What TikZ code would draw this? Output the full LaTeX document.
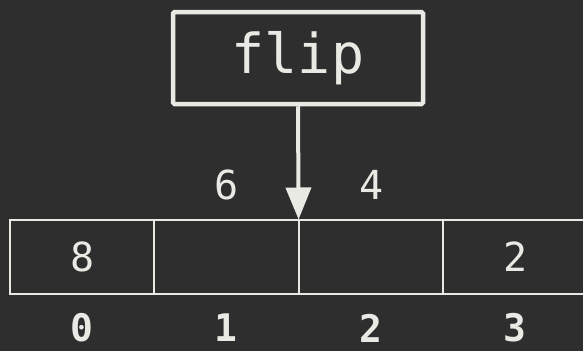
\documentclass[tikz,border=0pt]{standalone}
\usepackage{fontspec}
\setmonofont{DejaVu Sans Mono}
\usetikzlibrary{arrows.meta}
\definecolor{bg}{HTML}{2E2E2E}
\definecolor{fg}{HTML}{EAEAE4}
\begin{document}
\begin{tikzpicture}[x=1pt,y=-1pt,
  every node/.style={text=fg, font=\ttfamily\fontsize{40}{48}\selectfont},
  cell/.style={draw=fg, line width=2pt, minimum width=144.3pt, minimum height=74.5pt, inner sep=0pt, outer sep=0pt},
  idx/.style={font=\ttfamily\bfseries\fontsize{38}{46}\selectfont, inner sep=0pt},
  lbl/.style={inner sep=0pt},
  flipbox/.style={draw=fg, line width=4.5pt, rounded corners=1.5pt, minimum width=250pt, minimum height=92pt, inner sep=0pt, font=\ttfamily\fontsize{55}{60}\selectfont},
  arr/.style={draw=fg, line width=4pt, -{Triangle[width=25pt,length=32pt]}}]
\fill[bg] (0,0) rectangle (583,351);
\useasboundingbox (0,0) rectangle (583,351);
\node[flipbox] (flip) at (298,58) {\raisebox{-3pt}{flip}};
\node[cell] (c0) at (82.15,256.75) {\raisebox{-3pt}{8}};
\node[cell] (c1) at (226.45,256.75) {};
\node[cell] (c2) at (370.75,256.75) {};
\node[cell] (c3) at (515.05,256.75) {\raisebox{-3pt}{2}};
\node[lbl] (l6) at (227,185) {6};
\node[lbl] (l4) at (372,185) {4};
\node[idx] (i0) at (82,328) {0};
\node[idx] (i1) at (226,328) {1};
\node[idx] (i2) at (371,328) {2};
\node[idx] (i3) at (515,328) {3};
\draw[arr] (flip.south) -- (c1.north east);
\end{tikzpicture}
\end{document}
